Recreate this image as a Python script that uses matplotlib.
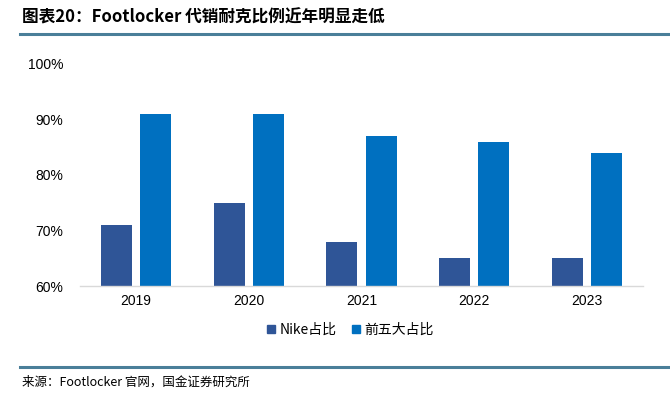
import matplotlib
matplotlib.use("Agg")
import matplotlib.pyplot as plt
import numpy as np
from matplotlib.lines import Line2D

plt.rcParams['font.family'] = ['Noto Sans CJK SC', 'DejaVu Sans']

years = ['2019', '2020', '2021', '2022', '2023']
nike_share = [71, 75, 68, 65, 65]
top5_share = [91, 91, 87, 86, 84]
yticks = [60, 70, 80, 90, 100]

title = '图表20：Footlocker 代销耐克比例近年明显走低'
source = '来源：Footlocker 官网，国金证券研究所'
series_names = ['Nike占比', '前五大占比']
colors = ['#2F5597', '#0070C0']

fig = plt.figure(figsize=(6.7, 3.99), dpi=100)
ax = fig.add_axes([0.119, 0.283, 0.841, 0.557])

x = np.arange(len(years))
w = 0.275
ax.bar(x - 0.175, [v - 60 for v in nike_share], w, bottom=60, color=colors[0])
ax.bar(x + 0.175, [v - 60 for v in top5_share], w, bottom=60, color=colors[1])

ax.set_xlim(-0.5, len(years) - 0.5)
ax.set_ylim(60, 100)
ax.set_yticks(yticks)
ax.set_yticklabels([f'{v}%' for v in yticks], fontsize=10, family=['Liberation Sans', 'DejaVu Sans'])
ax.set_xticks(x)
ax.set_xticklabels(years, fontsize=10, family=['Liberation Sans', 'DejaVu Sans'])
ax.tick_params(length=0, pad=6)
ax.tick_params(axis='y', pad=12)
for s in ['top', 'right', 'left']:
    ax.spines[s].set_visible(False)
ax.spines['bottom'].set_color('#D9D9D9')
ax.spines['bottom'].set_linewidth(1)

handles = [Line2D([], [], marker='s', linestyle='none', markersize=6, color=c) for c in colors]
fig.legend(handles, series_names, loc='center', bbox_to_anchor=(0.52, 0.173), ncol=2,
           frameon=False, fontsize=10, handletextpad=0.0, columnspacing=0.8, handlelength=1.2)

line_color = '#4A7F99'
fig.text(0.033, 0.957, title, fontsize=12, fontweight='bold', style='italic', va='center', ha='left')
fig.add_artist(Line2D([0.03, 1.0], [0.916, 0.916], color=line_color, linewidth=2.2, transform=fig.transFigure))
fig.add_artist(Line2D([0.03, 1.0], [0.081, 0.081], color=line_color, linewidth=2.2, transform=fig.transFigure))
fig.text(0.033, 0.043, source, fontsize=9, va='center', ha='left')

fig.savefig('out.png', dpi=100)
